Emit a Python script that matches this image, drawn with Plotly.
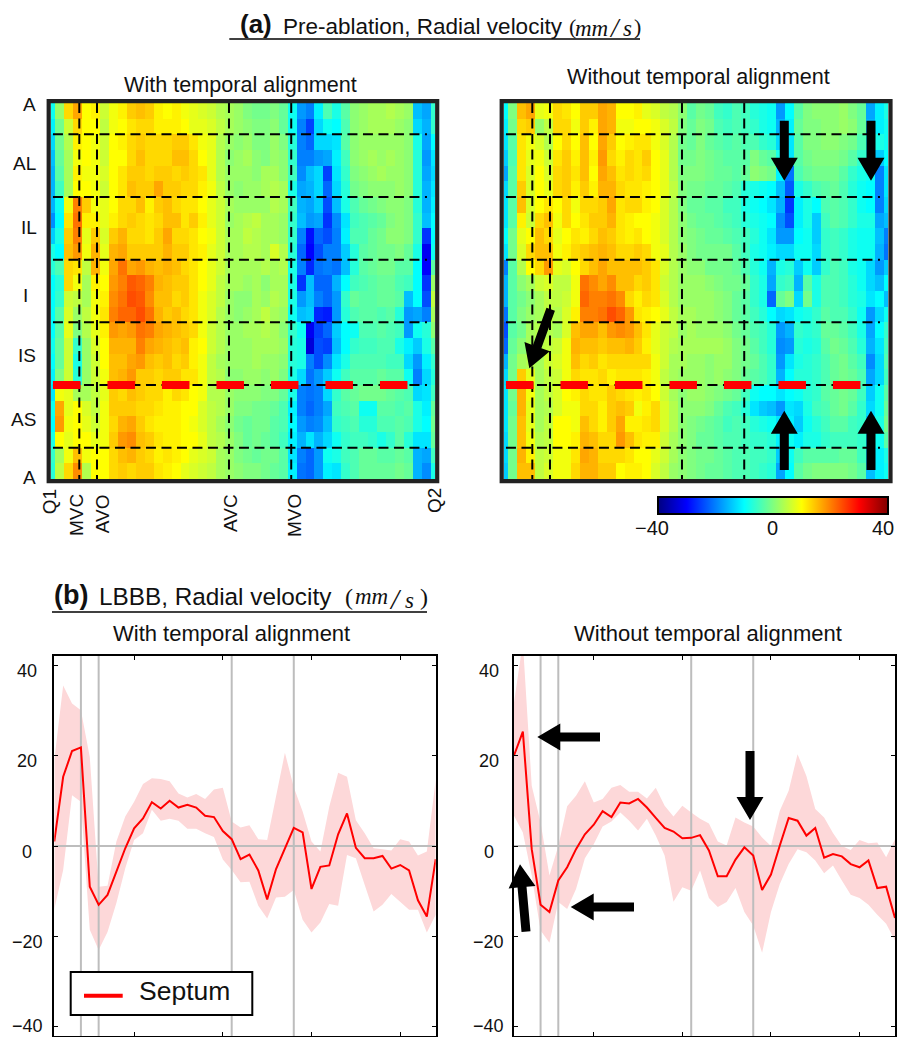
import plotly.graph_objects as go

W, H = 901, 1037
FONT = "Liberation Sans"
SERIF = "Liberation Serif"

def px(x): return x / W
def py(y): return 1 - y / H

# ---------- data ----------
heat_with = [
[-9,2,13,17,10,11,6,9,11,14,15,14,11,10,11,9,8,7,6,4,3,2,0,-1,-1,0,-2,-9,-18,-20,-11,-4,-8,-3,1,2,3,3,4,3,2,-15,-17,-6],
[-11,-1,6,13,10,10,5,9,10,12,13,13,11,11,11,10,8,8,7,5,3,2,1,0,0,1,-2,-9,-20,-25,-13,-9,-10,-4,1,2,3,3,3,2,1,-13,-16,-6],
[-13,-1,4,11,10,9,6,10,11,13,14,13,13,13,14,14,12,9,8,4,2,1,2,0,0,2,0,-7,-20,-22,-13,-13,-12,-3,1,2,2,2,2,2,1,-8,-17,-10],
[-15,-2,3,9,10,9,6,10,10,13,15,13,13,13,15,15,13,10,8,4,1,2,3,1,0,2,1,-6,-20,-20,-18,-17,-11,-5,1,2,3,2,3,2,1,-7,-18,-12],
[-16,-3,3,11,9,9,7,10,12,14,14,13,14,14,13,14,13,12,8,4,2,2,2,1,3,3,1,-5,-19,-15,-13,-25,-12,-6,0,1,2,3,2,2,1,-7,-17,-13],
[-16,-5,3,10,10,9,6,10,12,15,14,14,17,14,14,13,13,11,9,5,2,1,2,2,3,4,3,-8,-17,-16,-13,-22,-13,-7,-1,0,1,1,1,2,1,-7,-16,-12],
[-16,-9,9,20,14,9,8,10,13,13,15,11,14,15,13,12,12,10,8,6,3,2,2,2,2,4,3,-5,-16,-17,-14,-24,-15,-8,-4,-2,-1,0,1,1,0,-7,-16,-11],
[-19,-10,12,21,11,11,8,11,13,14,13,12,13,15,15,12,14,11,8,6,2,3,4,5,3,3,2,-6,-15,-18,-17,-26,-19,-12,-5,-4,-3,-2,0,1,0,-6,-15,-10],
[-14,-8,14,20,8,14,7,14,16,13,13,12,14,17,13,13,12,10,9,6,3,3,5,4,3,3,2,-6,-20,-29,-22,-24,-20,-11,-4,-4,-2,-1,1,1,0,-6,-26,-10],
[-8,-10,15,18,9,16,8,16,17,14,14,14,14,16,14,14,12,11,8,6,3,3,4,4,3,7,4,-7,-22,-30,-24,-20,-20,-14,-7,-3,-2,-1,-1,0,-2,-8,-31,-9],
[-7,-4,13,12,5,16,9,17,21,17,18,16,15,16,15,13,12,10,8,6,3,3,3,3,4,3,4,-8,-20,-27,-21,-20,-21,-15,-7,-3,-2,-1,-1,-3,-3,-10,-30,-3],
[-10,-7,13,9,3,11,10,18,20,23,22,20,16,15,14,14,12,10,8,5,3,3,2,3,1,3,3,-8,-26,-15,-22,-22,-16,-10,-5,-4,-3,-2,-2,-4,-5,-10,-26,2],
[-10,-6,6,5,3,9,11,19,21,24,23,19,15,15,13,14,12,9,7,5,2,1,1,3,2,4,3,-8,-18,-15,-20,-22,-18,-6,-2,-3,-3,-2,-2,-3,-15,-10,-24,5],
[-10,-3,7,2,5,9,12,20,22,22,24,21,16,14,15,13,12,9,7,4,2,1,2,3,5,3,2,-9,-15,-14,-27,-28,-18,-7,-4,-3,-3,-4,-3,-7,-18,-17,-20,3],
[-10,-3,8,0,4,8,11,18,17,18,21,20,17,16,15,14,13,9,6,4,2,2,3,3,4,3,1,-6,-9,-31,-25,-22,-14,-10,-9,-4,-4,-3,-4,-5,-18,-9,-7,1],
[-9,-2,6,-6,2,7,10,16,16,16,20,17,16,15,14,15,11,10,6,4,2,2,2,3,3,3,2,-7,-8,-33,-24,-25,-15,-10,-6,-5,-5,-4,-4,-8,-11,-14,-8,-3],
[-10,-2,6,-8,2,6,10,15,15,17,18,15,14,15,13,14,11,9,5,3,2,2,2,3,2,2,1,-7,-8,-20,-24,-19,-12,-8,-4,-4,-4,-4,-5,-5,-13,-18,-11,-6],
[-11,0,6,-7,2,6,9,15,16,18,14,14,13,14,14,12,12,9,5,4,1,1,2,2,1,2,0,-8,-13,-21,-18,-14,-9,-5,-3,-3,-3,-2,-3,-3,-9,-20,-13,-7],
[-12,9,8,3,3,5,8,14,13,15,14,13,13,11,13,12,10,9,4,4,2,1,1,1,0,0,-2,-8,-20,-21,-20,-13,-6,-3,-2,-1,-1,-1,-2,-3,-4,-13,-12,-5],
[-9,17,8,10,7,5,9,14,14,14,13,13,12,11,11,10,10,7,5,4,2,0,0,-1,-1,-2,-4,-11,-20,-22,-20,-17,-5,-4,-3,-9,-9,-3,-3,-4,-3,-8,-11,-2],
[-10,18,9,10,8,6,9,13,16,17,14,12,11,11,11,10,9,7,5,3,1,-1,-2,-1,-1,-3,-4,-10,-18,-20,-19,-15,-6,-5,-4,-7,-7,-4,-4,-3,-4,-8,-10,-1],
[-8,10,8,10,10,8,9,14,18,19,15,14,12,11,11,10,10,8,5,4,2,0,-2,-1,-2,-3,-5,-11,-16,-12,-16,-13,-9,-6,-5,-5,-6,-8,-6,-3,-7,-12,-12,-2],
[-6,3,9,15,9,10,10,13,15,16,14,13,11,12,11,10,8,7,6,3,2,0,-1,-2,-1,-1,-3,-12,-20,-22,-18,-9,-8,-5,-4,-2,-2,-3,-3,-2,-3,-16,-17,-5],
[-7,5,13,19,4,10,10,13,14,13,14,14,12,11,10,8,7,6,5,3,2,1,0,0,-1,-2,-3,-11,-21,-22,-18,-11,-12,-6,-4,-2,-2,-2,-2,-1,-2,-16,-19,-8],
]
heat_without = [
[-10,0,15,17,8,9,13,12,10,14,14,17,16,10,10,11,8,7,5,4,1,-3,-1,-2,-5,-6,-4,-5,-7,-8,-9,-18,-10,-3,0,1,1,1,2,0,-2,-17,-11,-8],
[-11,-1,13,14,2,5,13,13,9,14,11,17,16,9,9,10,10,9,7,5,0,-2,0,-1,-4,-5,-4,-5,-6,-8,-9,-16,-11,-2,0,0,1,1,2,1,-2,-16,-11,-9],
[-12,-3,12,9,7,4,10,13,10,15,10,17,14,10,11,12,12,9,7,4,-1,-2,0,-2,-3,-4,-3,-4,-4,-6,-7,-13,-12,-3,0,0,1,1,0,-1,-4,-10,-8,-9],
[-14,-4,12,8,9,6,12,14,11,15,11,18,13,11,13,12,14,10,8,4,-1,-1,0,-1,-2,-3,-3,-3,0,-2,-3,-8,-12,-3,-1,0,0,0,-1,-3,-6,-9,-14,-10],
[-17,-3,12,7,10,7,13,14,12,15,10,17,15,12,13,12,13,10,8,4,0,0,0,-1,-2,-2,-3,-2,1,0,-1,-11,-21,-4,-2,-1,-1,-1,-3,-6,-8,-9,-20,-12],
[-13,-3,14,7,10,8,13,14,11,14,11,16,16,13,12,12,11,10,8,5,0,-1,-1,-2,-2,-3,-4,-7,-8,-9,-10,-15,-23,-8,-6,-4,-3,-2,-4,-7,-9,-10,-20,-12],
[-12,-3,15,7,10,12,10,13,9,13,13,14,17,12,13,13,11,10,7,4,0,-2,-2,-3,-3,-5,-5,-8,-9,-10,-12,-16,-26,-11,-8,-10,-4,-3,-4,-6,-9,-10,-20,-13],
[-12,-3,11,6,13,15,9,13,10,12,14,14,16,12,11,10,10,9,7,4,1,-1,-2,-2,-3,-4,-5,-7,-8,-9,-10,-19,-24,-11,-8,-14,-5,-3,-4,-6,-8,-8,-17,-15],
[-10,-1,8,10,15,13,8,10,12,11,13,15,14,12,11,12,10,9,7,4,1,0,-1,-2,-2,-3,-4,-5,-7,-9,-12,-18,-18,-10,-9,-14,-6,-5,-6,-8,-9,-9,-15,-20],
[-12,-1,7,13,15,15,9,11,13,14,15,16,15,13,13,14,13,9,8,4,2,0,-1,-1,-1,-1,-3,-5,-8,-9,-11,-13,-13,-9,-9,-13,-6,-5,-6,-8,-9,-9,-16,-21],
[-20,-3,4,10,13,18,8,7,10,13,15,17,15,15,15,15,14,12,7,4,2,1,1,-1,-1,-1,-2,-4,-7,-9,-16,-8,-7,-14,-9,-14,-6,-4,-5,-8,-9,-13,-18,-14],
[-16,-3,1,3,6,7,5,5,9,21,19,17,19,15,15,13,14,12,6,4,2,2,2,1,0,-1,-1,-2,-6,-8,-17,-6,-5,-16,-3,-8,-4,-4,-5,-7,-9,-13,-15,-10],
[-16,-3,-1,1,3,5,5,6,9,22,20,20,21,19,13,11,13,12,7,4,2,2,2,2,1,0,-2,-3,-6,-8,-22,-2,0,-13,-1,-8,-4,-4,-5,-7,-8,-12,-10,-15],
[-21,-3,0,2,3,5,4,7,11,20,20,21,24,22,18,12,11,10,8,5,3,3,2,2,1,0,-2,-3,-5,-7,-10,-13,-12,-9,-8,-6,-3,-4,-4,-6,-9,-18,-13,-9],
[-24,-3,-1,3,4,4,3,7,15,17,17,15,18,19,18,15,12,8,6,5,2,3,2,2,2,1,-1,-2,-4,-5,-7,-18,-16,-6,-7,-6,-2,-2,-3,-5,-8,-17,-10,-6],
[-22,-2,1,3,4,5,6,9,16,15,15,14,15,15,16,14,11,8,6,4,3,3,3,3,3,2,0,-1,-3,-5,-7,-19,-18,-7,-8,-7,-3,-1,-2,-4,-7,-16,-12,-5],
[-16,-1,3,4,3,6,7,9,15,13,14,12,13,13,13,13,13,9,6,3,3,2,2,1,2,2,0,-1,-2,-4,-6,-18,-12,-8,-7,-6,-4,-2,-1,-3,-5,-19,-13,-4],
[-13,-1,14,8,3,5,6,9,13,12,12,13,11,12,12,12,11,9,5,3,2,2,2,1,2,1,0,-2,-3,-4,-6,-16,-10,-7,-7,-6,-4,-2,-1,-2,-4,-17,-13,-5],
[-12,-1,16,9,3,5,7,10,11,13,12,12,14,13,12,11,12,10,6,3,1,2,2,1,0,-1,-2,-5,-9,-10,-10,-12,-10,-9,-7,-6,-3,-2,-1,-2,-5,-14,-9,-3],
[-12,-2,16,8,3,4,7,9,9,13,13,11,14,15,14,9,11,13,7,4,1,1,1,0,-2,-4,-5,-7,-12,-14,-15,-18,-12,-13,-8,-5,-4,-2,-1,-3,-6,-13,-9,-2],
[-12,-1,15,8,3,5,10,10,9,15,13,11,14,17,11,11,12,13,7,4,1,0,-1,-2,-3,-5,-4,-5,-7,-8,-9,-12,-11,-14,-9,-7,-5,-3,-3,-5,-6,-15,-8,-1],
[-13,-1,15,9,4,5,10,10,11,16,15,13,13,18,15,12,11,11,6,3,1,0,-2,-2,-3,-4,-4,-5,-6,-6,-7,-11,-9,-11,-8,-8,-6,-5,-5,-5,-6,-14,-9,-3],
[-13,-1,16,11,5,6,9,9,12,17,16,13,13,13,12,10,10,8,6,3,1,0,-1,-1,-2,-3,-4,-4,-5,-5,-6,-14,-9,-5,-3,-3,-3,-3,-2,-2,-5,-14,-11,-8],
[-14,-1,15,15,5,7,9,9,13,16,16,14,14,10,11,11,10,7,5,2,1,0,-1,-2,-2,-3,-4,-4,-5,-6,-7,-17,-10,-3,-1,0,0,0,0,-1,-3,-15,-11,-9],
]
frames = list(range(1, 45))
septum_with = [1,15.3,21,21.8,-9,-13,-10.8,-5.7,-0.5,3.9,6.1,9.7,8.3,10,8.5,9.1,8.5,6.7,6.4,3.3,1.5,-2.9,-1.9,-5.4,-11.8,-5.1,-0.5,4,3,-9.5,-4.6,-4.3,2.6,7.2,-0.4,-2.7,-2.7,-2.2,-5,-4.2,-5.4,-12,-15.6,-2.9]
upper_with = [19,35.5,31.5,30,19.7,-9,-8.8,1,6.5,9.8,13.7,15,14.8,14.3,11.6,10.7,11.5,10.4,12.5,12.9,5.4,4.1,4.6,1.5,1.3,10.9,20.6,13,7.6,1,-1.2,8.7,16.2,15.3,5.7,2.8,-0.5,-0.7,-1,1.5,1,-2.1,-1.2,14.6]
lower_with = [-14,-5.3,11.2,9.8,-18.5,-23,-19,-12.6,-4.9,1.3,2.8,8,5.6,6,5.6,3.8,3.8,2.8,2,-3,-5.3,-8,-7.9,-13.2,-16,-11.4,-11.2,-9.7,-16.3,-19.1,-16.9,-12.8,-13.2,-2,-2.7,-8.6,-14.5,-13,-10.6,-12.3,-14.1,-14.1,-19.1,-15.2]
septum_without = [20,25.3,-0.7,-13,-14.6,-7.6,-4.7,-0.7,2.6,4.7,7.7,6.4,9.6,9.4,10.4,8.5,6.2,4,3.2,1.7,1.8,2.4,-1,-6.7,-6.7,-3,-0.3,-2.1,-9.7,-6.3,0.1,6.2,5.6,2.3,4,-2.6,-1.8,-2.3,-4,-4.7,-3.2,-9.3,-9,-15.9]
upper_without = [31.7,45,13.3,5.2,-6.5,0,8.8,11.1,14.3,9.6,10.4,12.9,13.5,12,12,10.5,12.9,8.9,6.5,8.9,7.4,6,5,1,0.1,6.3,5.2,4.3,1.9,0,7.8,12.2,20.3,15.5,8.2,6.3,2.9,0,-0.9,1.3,0.6,0.8,-2.5,1.5]
lower_without = [6.7,3,-6.5,-18.7,-21.4,-12.4,-13.9,-9.5,-2.7,0.4,4.3,5.4,7.4,5.6,3.4,6,2.3,-2.1,-12.3,-9.1,-9.9,-5.4,-11.5,-13.5,-12.4,-9.3,-14.6,-17.6,-23.6,-14.6,-8.4,-4,-0.7,-1.4,-3.2,-6,-4.3,-7.6,-10.8,-11.5,-13,-15.2,-17.2,-20.9]

event_names = ["MVC", "AVO", "AVC", "MVO"]
event_columns = [3.17, 5.15, 19.93, 26.9]
event_frames = [4, 6, 21, 28]
segment_boundaries = [0.5, 1.5, 2.5, 3.5, 4.5, 5.5]
septum_boundary = 4.5
line_yticks = [40, 20, 0, -20, -40]
colorbar_ticks = [-40, 0, 40]
legend_label = "Septum"

# ---------- layout geometry ----------
HEAT_L = (51, 435); HEAT_R = (504, 888); HEAT_Y = (103, 479)
LINE_L = (54.3, 435.7); LINE_R = (514, 895); LINE_Y = (656, 1036)

jet = [[0, "rgb(0,0,128)"], [0.125, "rgb(0,0,255)"], [0.375, "rgb(0,255,255)"],
       [0.625, "rgb(255,255,0)"], [0.875, "rgb(255,0,0)"], [1, "rgb(128,0,0)"]]

fig = go.Figure()
cols = list(range(44))
rows = [(i + 0.5) / 4 for i in range(24)]
fig.add_trace(go.Heatmap(z=heat_with, x=cols, y=rows, coloraxis="coloraxis", xaxis="x", yaxis="y", hoverinfo="skip"))
fig.add_trace(go.Heatmap(z=heat_without, x=cols, y=rows, coloraxis="coloraxis", xaxis="x2", yaxis="y2", hoverinfo="skip"))

def line_panel(xa, ya, septum, upper, lower):
    fig.add_trace(go.Scatter(x=frames + frames[::-1], y=upper + lower[::-1], mode="lines", fill="toself",
                             fillcolor="#fdd8d9", line=dict(width=0), xaxis=xa, yaxis=ya, showlegend=False, hoverinfo="skip"))
    for f in event_frames:
        fig.add_trace(go.Scatter(x=[f, f], y=[-42, 42], mode="lines", line=dict(color="#bdbdbd", width=2),
                                 xaxis=xa, yaxis=ya, showlegend=False, hoverinfo="skip"))
    fig.add_trace(go.Scatter(x=[1, 44], y=[0, 0], mode="lines", line=dict(color="#bdbdbd", width=2),
                             xaxis=xa, yaxis=ya, showlegend=False, hoverinfo="skip"))
    fig.add_trace(go.Scatter(x=frames, y=septum, mode="lines", name=legend_label, line=dict(color="#ff0000", width=2),
                             xaxis=xa, yaxis=ya, showlegend=False))

line_panel("x3", "y3", septum_with, upper_with, lower_with)
line_panel("x4", "y4", septum_without, upper_without, lower_without)

shapes = []
annotations = []

def text(x, y, s, size=19, angle=0, xanchor="center", yanchor="middle", family=FONT):
    annotations.append(dict(x=px(x), y=py(y), xref="paper", yref="paper", text=s, showarrow=False,
                            font=dict(family=family, size=size, color="#111"), textangle=angle,
                            xanchor=xanchor, yanchor=yanchor, borderpad=0, borderwidth=0))

def frame(x0, y0, x1, y1, width=4.2, color="#222", fill=None):
    shapes.append(dict(type="rect", xref="paper", yref="paper", x0=px(x0), x1=px(x1), y0=py(y0), y1=py(y1),
                       line=dict(color=color, width=width), layer="above", fillcolor=fill))

def hline(x0, x1, y, width=1.5, color="#000"):
    shapes.append(dict(type="line", xref="paper", yref="paper", x0=px(x0), x1=px(x1), y0=py(y), y1=py(y),
                       line=dict(color=color, width=width), layer="above"))

def block_arrow(x0, y0, x1, y1, shaft=9, head_w=27, head_l=23):
    dx, dy = x1 - x0, y1 - y0
    L = (dx * dx + dy * dy) ** 0.5
    ux, uy = dx / L, dy / L
    nx, ny = -uy, ux
    bx, by = x1 - ux * head_l, y1 - uy * head_l
    pts = [(x0 + nx * shaft / 2, y0 + ny * shaft / 2), (bx + nx * shaft / 2, by + ny * shaft / 2),
           (bx + nx * head_w / 2, by + ny * head_w / 2), (x1, y1),
           (bx - nx * head_w / 2, by - ny * head_w / 2), (bx - nx * shaft / 2, by - ny * shaft / 2),
           (x0 - nx * shaft / 2, y0 - ny * shaft / 2)]
    path = "M " + " L ".join(f"{px(a):.5f} {py(b):.5f}" for a, b in pts) + " Z"
    shapes.append(dict(type="path", xref="paper", yref="paper", path=path, fillcolor="#000",
                       line=dict(width=0), layer="above"))

# heatmap overlays
DASH = "10px,5.5px"
for xa, ya in (("x", "y"), ("x2", "y2")):
    for c in event_columns:
        shapes.append(dict(type="line", xref=xa, yref=ya, x0=c, x1=c, y0=0, y1=6,
                           line=dict(color="#000", width=2, dash=DASH), layer="above"))
    for b in segment_boundaries:
        shapes.append(dict(type="line", xref=xa, yref=ya, x0=0.22, x1=42.1, y0=b, y1=b,
                           line=dict(color="#000", width=2, dash=DASH), layer="above"))
    shapes.append(dict(type="line", xref=xa, yref=ya, x0=0.22, x1=40, y0=septum_boundary, y1=septum_boundary,
                       line=dict(color="#ff0000", width=8, dash="27.5px,27px"), layer="above"))

frame(48.7, 101.2, 437.2, 481.2)
frame(501.7, 101.2, 890.5, 481.2)

# heatmap labels
for x, y, s in [(29.3, 104.3, "A"), (24.7, 164, "AL"), (28.7, 227.7, "IL"), (25.3, 295, "I"),
                (27, 355, "IS"), (23.3, 419, "AS"), (29.3, 478, "A")]:
    text(x, y, s)
for x, y, s in [(49.3, 502, "Q1"), (76, 515, "MVC"), (102.7, 513.5, "AVO"), (230, 513, "AVC"),
                (294, 516, "MVO"), (435, 501, "Q2")]:
    text(x, y, s, angle=-90)

# titles
text(240.5, 85, "With temporal alignment", size=21.6)
text(698, 77, "Without temporal alignment", size=21.6)
text(232, 633, "With temporal alignment", size=22)
text(708, 633, "Without temporal alignment", size=22)

text(240, 24, "<b>(a)</b>", size=26, xanchor="left")
text(282.7, 26, "Pre-ablation, Radial velocity", size=22.5, xanchor="left")
text(572, 27, "(", size=22, family=SERIF)
text(575, 28, "<i>mm</i>", size=23, family=SERIF, xanchor="left")
text(615, 28, "<i>/</i>", size=27, family=SERIF)
text(623, 28, "<i>s</i>", size=23, family=SERIF, xanchor="left")
text(637, 27, ")", size=22, family=SERIF)
hline(229.3, 640, 39)

text(54, 595, "<b>(b)</b>", size=27, xanchor="left")
text(99, 596, "LBBB, Radial velocity", size=24.3, xanchor="left")
text(348.5, 597, "(", size=24, family=SERIF)
text(355, 596, "<i>mm</i>", size=23, family=SERIF, xanchor="left")
text(395, 599, "<i>/</i>", size=29, family=SERIF)
text(405, 600, "<i>s</i>", size=23, family=SERIF, xanchor="left")
text(423.5, 597, ")", size=24, family=SERIF)
hline(52, 427, 612)

# line-chart y labels tied to the axes
for ya, cx in (("y3", 27), ("y4", 488.7)):
    for t in line_yticks:
        annotations.append(dict(x=px(cx), xref="paper", y=t, yref=ya, yshift=1 if t == -40 else -5.7, showarrow=False,
                                text=str(t).replace("-", "\u2212"), font=dict(family=FONT, size=18, color="#111"),
                                xanchor="center", yanchor="middle"))

# colourbar labels
for cx, t in zip((652, 772, 882.7), colorbar_ticks):
    text(cx, 528, str(t).replace("-", "\u2212"), size=20)

# legend box
frame(70.7, 972, 252.3, 1015, width=2, color="#000", fill="#fff")
hline(84, 122.7, 995.7, width=4, color="#ff0000")
text(139, 991, legend_label, size=26.5, xanchor="left")

# block arrows
for a in [(784.3, 120.7, 784.3, 180.7), (871, 120.7, 871, 180.7),
          (784.3, 470, 784.3, 410.7), (871, 470, 871, 410.7),
          (550.7, 309.3, 529.3, 368.3),
          (600, 737, 537.3, 737), (634, 907, 570.7, 907),
          (750, 751, 750, 820), (526, 931.7, 520, 864.3)]:
    block_arrow(*a)

def dom(a, b, size):
    return [a / size, b / size]

def ydom(top, bottom):
    return [1 - bottom / H, 1 - top / H]

heat_x = dict(range=[0, 43], visible=False)
heat_y = dict(range=[6, 0], visible=False)
line_x = dict(range=[1, 44], tickvals=[10, 20, 30, 40], ticks="inside", ticklen=4, tickwidth=1.3, tickcolor="#000",
              showticklabels=False, showgrid=False, zeroline=False, showline=True, linecolor="#000",
              linewidth=1.6, mirror="allticks")
line_y = dict(range=[-42, 42], tickvals=line_yticks, ticks="inside", ticklen=4, tickwidth=1.3, tickcolor="#000",
              showticklabels=False, showgrid=False, zeroline=False, showline=True, linecolor="#000",
              linewidth=1.6, mirror="allticks")

fig.update_layout(
    width=W, height=H, margin=dict(l=0, r=0, t=0, b=0, autoexpand=False),
    paper_bgcolor="#fff", plot_bgcolor="#fff", font=dict(family=FONT, color="#111"), showlegend=False,
    xaxis=dict(heat_x, domain=dom(*HEAT_L, W), anchor="y"),
    yaxis=dict(heat_y, domain=ydom(*HEAT_Y), anchor="x"),
    xaxis2=dict(heat_x, domain=dom(*HEAT_R, W), anchor="y2"),
    yaxis2=dict(heat_y, domain=ydom(*HEAT_Y), anchor="x2"),
    xaxis3=dict(line_x, domain=dom(*LINE_L, W), anchor="y3"),
    yaxis3=dict(line_y, domain=ydom(*LINE_Y), anchor="x3"),
    xaxis4=dict(line_x, domain=dom(*LINE_R, W), anchor="y4"),
    yaxis4=dict(line_y, domain=ydom(*LINE_Y), anchor="x4"),
    coloraxis=dict(cmin=-40, cmax=40, colorscale=jet, colorbar=dict(
        orientation="h", x=px(657.7), xanchor="left", y=py(496.7), yanchor="top", lenmode="pixels", len=229.5,
        thickness=17, thicknessmode="pixels", outlinecolor="#000", outlinewidth=2, xpad=0, ypad=0,
        showticklabels=False, ticks="")),
    shapes=shapes, annotations=annotations,
)

fig.write_html("out.html", config=dict(displayModeBar=False),
               post_script="document.body.style.margin='0';document.body.style.overflow='hidden';")
